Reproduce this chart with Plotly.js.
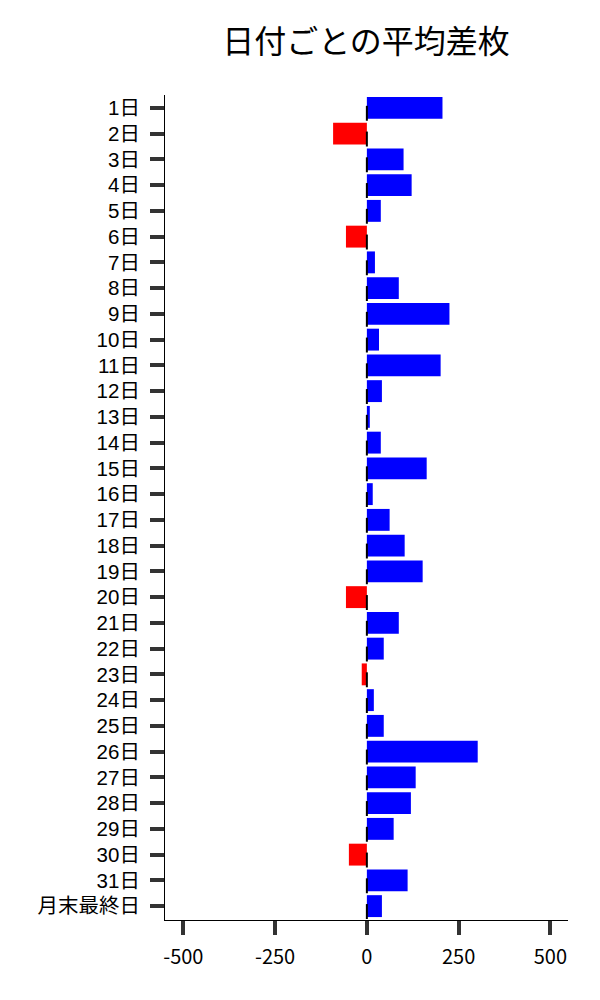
<!DOCTYPE html>
<html>
<head>
<meta charset="utf-8">
<script src="https://cdn.plot.ly/plotly-3.0.1.min.js"></script>
<style>body{margin:0;padding:0;}#chart{width:600px;height:1000px;}</style>
</head>
<body>
<div id="chart"></div>
<script>
const categories = ["1日","2日","3日","4日","5日","6日","7日","8日","9日","10日","11日","12日","13日","14日","15日","16日","17日","18日","19日","20日","21日","22日","23日","24日","25日","26日","27日","28日","29日","30日","31日","月末最終日"];
const values = [206,-92,100,122,38,-57,22,87,225,33,201,41,8,38,163,16,62,103,152,-57,87,46,-14,19,46,302,133,120,73,-49,111,41];
const xTicks = [-500,-250,0,250,500];
const colors = values.map(v => v >= 0 ? "#0000ff" : "#ff0000");

const font = "Noto Sans CJK JP, Noto Sans, sans-serif";
const yFont = "Liberation Sans, Noto Sans CJK JP, sans-serif";
// short black zero-line segments under each bar (as in the reference)
const shapes = categories.map((c, i) => ({
  type: "line", xref: "x", yref: "y", layer: "above",
  x0: 0, x1: 0, y0: i - 0.08, y1: i + 0.5,
  line: {color: "#000", width: 2}
}));

Plotly.newPlot("chart", [{
  type: "bar",
  orientation: "h",
  x: values,
  y: categories,
  marker: {color: colors},
  hoverinfo: "x+y"
}], {
  width: 600, height: 1000,
  margin: {l: 165, r: 32, t: 95, b: 80},
  paper_bgcolor: "#fff", plot_bgcolor: "#fff",
  title: {text: "日付ごとの平均差枚", font: {family: font, size: 32, color: "#000"}, x: 0.61, xanchor: "center", y: 0.958, yanchor: "middle"},
  bargap: 0.15,
  showlegend: false,
  shapes: shapes,
  xaxis: {
    range: [-550, 548],
    tickvals: xTicks,
    ticktext: xTicks.map(String),
    ticks: "outside", ticklen: 14, tickwidth: 4, tickcolor: "#333",
    showline: true, linecolor: "#000", linewidth: 1,
    showgrid: false,
    zeroline: false,
    tickfont: {family: font, size: 20, color: "#000"},
    ticklabelstandoff: 5
  },
  yaxis: {
    autorange: "reversed",
    type: "category",
    ticks: "outside", ticklen: 14, tickwidth: 4, tickcolor: "#333",
    showline: true, linecolor: "#000", linewidth: 1,
    showgrid: false,
    zeroline: false,
    tickfont: {family: yFont, size: 20.5, color: "#000"},
    ticklabelstandoff: 6
  }
}, {displayModeBar: false, staticPlot: true});
</script>
</body>
</html>
